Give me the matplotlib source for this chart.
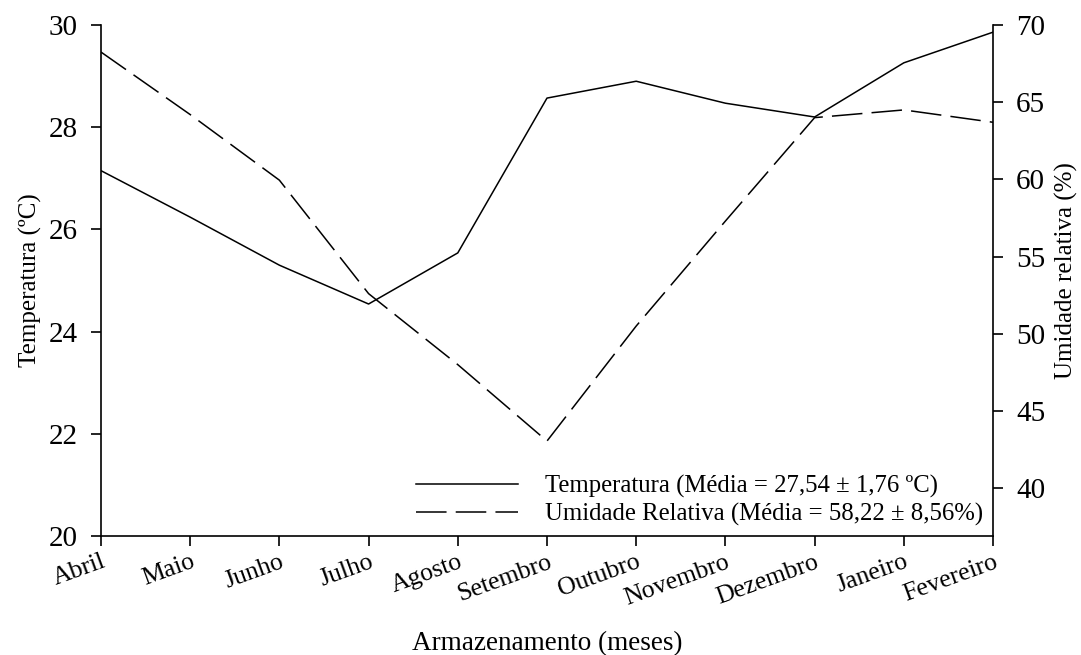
import numpy as np
import matplotlib
matplotlib.use('Agg')
import matplotlib.pyplot as plt
from matplotlib.lines import Line2D

plt.rcParams['font.family'] = ['Liberation Serif', 'DejaVu Serif']

# Dados
meses = ['Abril', 'Maio', 'Junho', 'Julho', 'Agosto', 'Setembro', 'Outubro',
         'Novembro', 'Dezembro', 'Janeiro', 'Fevereiro']
temperatura = [27.15, 26.24, 25.30, 24.54, 25.54, 28.57, 28.90, 28.47, 28.20, 29.26, 29.86]
umidade = [68.25, 64.2, 59.95, 52.6, 48.0, 43.05, 50.5, 57.3, 64.0, 64.5, 63.7]

x = np.arange(len(meses))

fig = plt.figure(figsize=(10.81, 6.55), dpi=100)
ax = fig.add_axes([0.0934, 0.1817, 0.8252, 0.7801])
ax2 = ax.twinx()

ax.plot(x, temperatura, color='black', linewidth=1.1)
ax2.plot(x, umidade, color='black', linewidth=1.1, dashes=(20, 6))

ax.set_xlim(0, 10)
ax.set_ylim(20, 30)
ax2.set_ylim(36.9, 70)
ax.set_yticks([20, 22, 24, 26, 28, 30])
ax2.set_yticks([40, 45, 50, 55, 60, 65, 70])
ax.set_xticks(x)
ax.set_xticklabels(meses, rotation=20, ha='right', rotation_mode='anchor')

for a in (ax, ax2):
    a.spines['top'].set_visible(False)
    for s in a.spines.values():
        s.set_linewidth(1.2)
    a.tick_params(direction='out', length=7.2, width=1.2, labelsize=21, pad=9.5)
ax.spines['right'].set_visible(False)
ax2.spines['left'].set_visible(False)
ax2.spines['bottom'].set_visible(False)
ax.tick_params(axis='x', labelsize=18.5, pad=3.5)

# rotulos dos eixos
ax.set_ylabel('Temperatura (ºC)', fontsize=18)
ax.yaxis.set_label_coords(-0.066, 0.5)
ax2.set_ylabel('Umidade relativa (%)', fontsize=18)
ax2.yaxis.set_label_coords(1.069, 0.52)
ax.set_xlabel('Armazenamento (meses)', fontsize=19.5)
ax.xaxis.set_label_coords(0.5, -0.186)

handles = [Line2D([0], [0], color='black', linewidth=1.1),
           Line2D([0], [0], color='black', linewidth=1.1, dashes=(20, 6))]
labels = ['Temperatura (Média = 27,54 ± 1,76 ºC)',
          'Umidade Relativa (Média = 58,22 ± 8,56%)']
ax.legend(handles, labels, loc='lower right', frameon=False, fontsize=17.8,
          handlelength=4.13, handletextpad=1.1, labelspacing=0.21,
          borderaxespad=0.0, bbox_to_anchor=(1.0, 0.0))

fig.savefig('out.png', dpi=100)
